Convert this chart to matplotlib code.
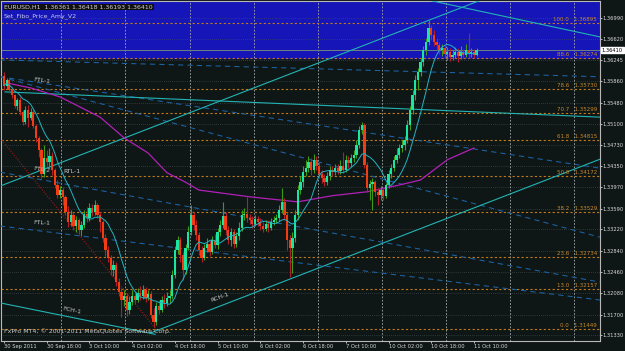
import numpy as np
import pandas as pd
import matplotlib
matplotlib.use("Agg")
import matplotlib.pyplot as plt
import matplotlib.transforms as mtransforms

# EURUSD H1, bars from 30 Sep 2011 02:00 to 11 Oct 2011 11:00 (178 bars)
first_open = 1.3596
closes = [1.3578, 1.3588, 1.3571, 1.3562, 1.3542, 1.3553, 1.3531, 1.3513, 1.3535, 1.3521,
          1.3531, 1.3506, 1.3485, 1.3464, 1.3421, 1.3449, 1.3442, 1.3453, 1.3428, 1.3401,
          1.3383, 1.3392, 1.3380, 1.3353, 1.3335, 1.3348, 1.3328, 1.3339, 1.3321, 1.3330,
          1.3349, 1.3342, 1.3360, 1.3353, 1.3365, 1.3348, 1.3335, 1.3306, 1.3285, 1.3271,
          1.3249, 1.3258, 1.3228, 1.3210, 1.3196, 1.3203, 1.3178, 1.3192, 1.3203, 1.3196,
          1.3208, 1.3203, 1.3214, 1.3199, 1.3207, 1.3169, 1.3157, 1.3185, 1.3178, 1.3196,
          1.3191, 1.3199, 1.3203, 1.3241, 1.3285, 1.3303, 1.3276, 1.3249, 1.3289, 1.3317,
          1.3348, 1.3330, 1.3312, 1.3285, 1.3271, 1.3289, 1.3296, 1.3282, 1.3303, 1.3294,
          1.3317, 1.3330, 1.3346, 1.3321, 1.3303, 1.3317, 1.3296, 1.3310, 1.3324, 1.3348,
          1.3349, 1.3342, 1.3339, 1.3331, 1.3340, 1.3335, 1.3328, 1.3323, 1.3331, 1.3324,
          1.3335, 1.3339, 1.3342, 1.3357, 1.3371, 1.3348, 1.3303, 1.3289, 1.3306, 1.3348,
          1.3392, 1.3406, 1.3424, 1.3431, 1.3442, 1.3428, 1.3446, 1.3435, 1.3421, 1.3414,
          1.3406, 1.3417, 1.3428, 1.3424, 1.3431, 1.3426, 1.3435, 1.3428, 1.3446, 1.3440,
          1.3449, 1.3455, 1.3473, 1.3499, 1.3508, 1.3437, 1.3396, 1.3403, 1.3406, 1.3389,
          1.3383, 1.3392, 1.3382, 1.3401, 1.3421, 1.3431, 1.3446, 1.3455, 1.3467, 1.3473,
          1.3481, 1.3508, 1.3535, 1.3562, 1.3588, 1.3603, 1.3621, 1.3642, 1.3656, 1.3681,
          1.3669, 1.3656, 1.3651, 1.3642, 1.3646, 1.3635, 1.3638, 1.3630, 1.3633, 1.3638,
          1.3631, 1.3638, 1.3633, 1.3642, 1.3635, 1.3638, 1.3633, 1.3641]
highs = [1.3603, 1.3592, 1.3590, 1.3574, 1.3563, 1.3556, 1.3558, 1.3535, 1.3542, 1.3544,
         1.3538, 1.3535, 1.3510, 1.3489, 1.3467, 1.3473, 1.3464, 1.3467, 1.3460, 1.3431,
         1.3410, 1.3399, 1.3398, 1.3383, 1.3364, 1.3357, 1.3353, 1.3346, 1.3342, 1.3337,
         1.3357, 1.3362, 1.3369, 1.3367, 1.3374, 1.3369, 1.3353, 1.3339, 1.3314, 1.3292,
         1.3276, 1.3267, 1.3264, 1.3235, 1.3217, 1.3214, 1.3208, 1.3203, 1.3214, 1.3210,
         1.3217, 1.3221, 1.3223, 1.3219, 1.3214, 1.3212, 1.3182, 1.3192, 1.3196, 1.3203,
         1.3207, 1.3210, 1.3214, 1.3249, 1.3292, 1.3310, 1.3308, 1.3282, 1.3296, 1.3328,
         1.3365, 1.3353, 1.3339, 1.3317, 1.3292, 1.3296, 1.3306, 1.3303, 1.3310, 1.3314,
         1.3324, 1.3339, 1.3371, 1.3353, 1.3328, 1.3324, 1.3323, 1.3317, 1.3335, 1.3357,
         1.3360, 1.3380, 1.3349, 1.3346, 1.3348, 1.3346, 1.3342, 1.3335, 1.3339, 1.3339,
         1.3342, 1.3346, 1.3349, 1.3365, 1.3396, 1.3378, 1.3353, 1.3312, 1.3317, 1.3357,
         1.3401, 1.3417, 1.3435, 1.3446, 1.3453, 1.3449, 1.3456, 1.3453, 1.3442, 1.3428,
         1.3421, 1.3424, 1.3435, 1.3435, 1.3439, 1.3439, 1.3446, 1.3460, 1.3455, 1.3453,
         1.3456, 1.3464, 1.3481, 1.3506, 1.3513, 1.3512, 1.3442, 1.3410, 1.3414, 1.3410,
         1.3396, 1.3399, 1.3398, 1.3405, 1.3428, 1.3439, 1.3453, 1.3467, 1.3474, 1.3481,
         1.3489, 1.3517, 1.3542, 1.3571, 1.3597, 1.3610, 1.3628, 1.3649, 1.3663, 1.3695,
         1.3687, 1.3678, 1.3663, 1.3656, 1.3653, 1.3651, 1.3647, 1.3646, 1.3642, 1.3647,
         1.3646, 1.3649, 1.3644, 1.3653, 1.3672, 1.3646, 1.3644, 1.3646]
lows = [1.3571, 1.3572, 1.3565, 1.3556, 1.3538, 1.3535, 1.3526, 1.3508, 1.3510, 1.3505,
        1.3517, 1.3503, 1.3478, 1.3451, 1.3414, 1.3415, 1.3435, 1.3431, 1.3419, 1.3396,
        1.3378, 1.3378, 1.3365, 1.3348, 1.3326, 1.3328, 1.3321, 1.3317, 1.3314, 1.3310,
        1.3324, 1.3335, 1.3337, 1.3346, 1.3348, 1.3342, 1.3317, 1.3299, 1.3274, 1.3264,
        1.3241, 1.3239, 1.3221, 1.3203, 1.3166, 1.3185, 1.3167, 1.3171, 1.3187, 1.3189,
        1.3192, 1.3196, 1.3198, 1.3192, 1.3196, 1.3164, 1.3148, 1.3151, 1.3171, 1.3174,
        1.3182, 1.3185, 1.3191, 1.3198, 1.3235, 1.3278, 1.3264, 1.3232, 1.3242, 1.3285,
        1.3312, 1.3321, 1.3303, 1.3276, 1.3264, 1.3267, 1.3282, 1.3274, 1.3278, 1.3289,
        1.3287, 1.3310, 1.3324, 1.3312, 1.3296, 1.3292, 1.3289, 1.3291, 1.3303, 1.3319,
        1.3339, 1.3335, 1.3331, 1.3324, 1.3328, 1.3328, 1.3321, 1.3317, 1.3319, 1.3317,
        1.3321, 1.3330, 1.3333, 1.3337, 1.3351, 1.3339, 1.3285, 1.3237, 1.3244, 1.3299,
        1.3339, 1.3385, 1.3398, 1.3417, 1.3424, 1.3419, 1.3423, 1.3428, 1.3414, 1.3405,
        1.3399, 1.3401, 1.3410, 1.3417, 1.3419, 1.3421, 1.3421, 1.3423, 1.3424, 1.3431,
        1.3433, 1.3442, 1.3449, 1.3467, 1.3492, 1.3431, 1.3389, 1.3374, 1.3357, 1.3382,
        1.3365, 1.3374, 1.3374, 1.3378, 1.3396, 1.3414, 1.3426, 1.3440, 1.3449, 1.3460,
        1.3464, 1.3476, 1.3499, 1.3528, 1.3553, 1.3571, 1.3596, 1.3613, 1.3633, 1.3651,
        1.3660, 1.3649, 1.3642, 1.3635, 1.3631, 1.3628, 1.3624, 1.3622, 1.3624, 1.3628,
        1.3621, 1.3626, 1.3628, 1.3630, 1.3628, 1.3630, 1.3628, 1.3631]

# slow moving average (magenta), read at some bars
slow_ma_bars = [1, 10, 21, 36, 45, 54, 61, 68, 73, 81, 92, 110, 123, 136, 148, 156, 166, 176]
slow_ma_vals = [1.3583, 1.3574, 1.3558, 1.3522, 1.3485, 1.3458, 1.3423, 1.3406, 1.3392, 1.3387,
                1.3380, 1.3371, 1.3382, 1.3389, 1.3401, 1.3410, 1.3446, 1.3467]

# fibo retracement
fibo_low = 1.31449
fibo_high = 1.36895
fibo_levels = [100.0, 88.6, 78.6, 70.7, 61.8, 50.0, 38.2, 23.6, 13.0, 0.0]
bid = 1.36410

# trend lines: (bar0, price0, bar1, price1)
cyan_lines = {
    "RCH-1": (54.7, 1.3137, 223.2, 1.3447),
    "RTL-1": (-1.5, 1.3399, 200.0, 1.3770),
    "FTL-1": (0.4, 1.3567, 223.2, 1.3522),
    "FCH-1": (-1.5, 1.3191, 56.6, 1.3135),
    "FCH-1b": (140.0, 1.3750, 223.2, 1.3665),
}
blue_lines = [
    (-1.5, 1.3624, 223.2, 1.3594),
    (-1.5, 1.3594, 223.2, 1.3431),
    (-1.5, 1.3594, 223.2, 1.3308),
    (-1.5, 1.3424, 223.2, 1.3228),
    (-1.5, 1.3328, 223.2, 1.3196),
]
red_line = (-1.5, 1.3485, 56.6, 1.3146)
line_labels = [("FTL-1", 14.2, 1.3587, -8), ("FTL-2", 14.2, 1.3428, -8), ("RTL-1", 25.5, 1.3426, 0),
               ("FTL-1", 14.2, 1.3333, -3), ("FCH-1", 25.5, 1.3178, -12), ("RCH-1", 80.9, 1.3201, 20)]

price_ticks = [1.36990, 1.36620, 1.36245, 1.35860, 1.35480, 1.35100, 1.34730, 1.34350,
               1.33970, 1.33590, 1.33220, 1.32840, 1.32460, 1.32080, 1.31700, 1.31330]
time_ticks = [0, 16, 32, 48, 64, 80, 96, 112, 128, 144, 160, 176]
time_labels = ["30 Sep 2011", "30 Sep 18:00", "3 Oct 10:00", "4 Oct 02:00", "4 Oct 18:00",
               "5 Oct 10:00", "6 Oct 02:00", "6 Oct 18:00", "7 Oct 10:00", "10 Oct 02:00",
               "10 Oct 18:00", "11 Oct 10:00"]
day_starts = [22, 46, 70, 94, 118, 142, 166, 190, 214]

BG = "#0f1716"
fig = plt.figure(figsize=(6.25, 3.51), dpi=100)
fig.patch.set_facecolor(BG)
ax = fig.add_axes([1 / 625, 10 / 351, 599 / 625, 340 / 351])
ax.set_facecolor(BG)
ax.set_xlim(-1.12, 223.2)
ax.set_ylim(1.3123, 1.3729)

# blue zone above 88.6 level
levels = [fibo_low + p / 100 * (fibo_high - fibo_low) for p in fibo_levels]
ax.axhspan(levels[1], 1.3729, color="#1515b8", zorder=0)

# grid
for p in price_ticks:
    ax.axhline(p, color="#4a5858", lw=0.5, ls=(0, (1, 2)), zorder=1)
for d in day_starts:
    ax.axvline(d - 0.5, color="#a8b0b0", lw=0.6, ls=(0, (2, 2)), zorder=1)

# fibo levels
xform = mtransforms.blended_transform_factory(ax.transAxes, ax.transData)
for pct, lv in zip(fibo_levels, levels):
    ax.axhline(lv, color="#c07818", lw=0.8, ls=(0, (2, 2)), zorder=2)
    ax.text(0.995, lv + 0.00012, f"{pct:.1f}   {lv:.5f}", transform=xform, ha="right", va="bottom",
            fontsize=4, color="#c8882c", zorder=6)

# bid line
ax.axhline(bid, color="#6f8080", lw=0.7, zorder=2)

# trend lines
for x0, y0, x1, y1 in blue_lines:
    ax.plot([x0, x1], [y0, y1], color="#1c64a8", lw=0.75, ls=(0, (5, 4)), zorder=3)
for name, (x0, y0, x1, y1) in cyan_lines.items():
    ax.plot([x0, x1], [y0, y1], color="#22b4b4", lw=0.8, zorder=3)
ax.plot([red_line[0], red_line[2]], [red_line[1], red_line[3]], color="#a01818", lw=0.8,
        ls=(0, (1, 1.5)), zorder=3)

for txt, bx, py, rot in line_labels:
    ax.text(bx, py, txt, fontsize=4.5, color="#c8c8c8", rotation=rot, ha="center", va="center", zorder=7)

# candles
idx = np.arange(len(closes))
opens = [first_open] + closes[:-1]
df = pd.DataFrame({"open": opens, "high": highs, "low": lows, "close": closes}, index=idx)
up = df["close"] >= df["open"]
dn = ~up
ax.vlines(idx[up], df["low"][up], df["high"][up], color="#3f9a18", lw=0.8, zorder=4)
ax.vlines(idx[dn], df["low"][dn], df["high"][dn], color="#b0202c", lw=0.8, zorder=4)
ax.bar(idx[up], (df["close"] - df["open"])[up], bottom=df["open"][up], width=0.85,
       color="#19e6a0", lw=0, zorder=5)
ax.bar(idx[dn], (df["open"] - df["close"])[dn], bottom=df["close"][dn], width=0.85,
       color="#f23c14", lw=0, zorder=5)

# moving averages
fast_ma = df["close"].rolling(10, min_periods=1).mean()
ax.plot(idx, fast_ma, color="#22b4c4", lw=0.7, zorder=5)
ax.plot(slow_ma_bars, slow_ma_vals, color="#b020b8", lw=0.9, zorder=3)

# axes styling
for s in ax.spines.values():
    s.set_color("#b8b8b8")
    s.set_linewidth(0.8)
ax.yaxis.tick_right()
ax.set_yticks(price_ticks)
ax.set_yticklabels([f"{p:.5f}" for p in price_ticks])
ax.set_xticks(time_ticks)
ax.set_xticklabels(time_labels)
for lab in ax.get_xticklabels():
    lab.set_horizontalalignment("left")
ax.tick_params(axis="both", colors="#d8d8d8", labelsize=3.7, length=1.5, width=0.6, pad=0.5)

# current price box
ax.text(1.003, bid, f"{bid:.5f}", transform=xform, ha="left", va="center", fontsize=3.7,
        color="black", bbox=dict(boxstyle="square,pad=0.12", fc="white", ec="white"), zorder=10,
        clip_on=False)

fig.text(4 / 625, 1 - 7 / 351, "EURUSD,H1  1.36361 1.36418 1.36193 1.36410", fontsize=4.5,
         color="#d0d0d0", va="center", ha="left",
         bbox=dict(boxstyle="square,pad=0.15", fc="#101010", ec="none"))
fig.text(4 / 625, 1 - 16 / 351, "Set_Fibo_Price_Amy_V2", fontsize=4.5, color="#c8c8f0",
         va="center", ha="left")
fig.text(4 / 625, 1 - 331 / 351, "FxPro MT4, \u00a9 2001-2011 MetaQuotes Software Corp.", fontsize=4.5,
         color="#c8c8c8", va="center", ha="left")

fig.savefig("out.png", dpi=100, facecolor=BG)
